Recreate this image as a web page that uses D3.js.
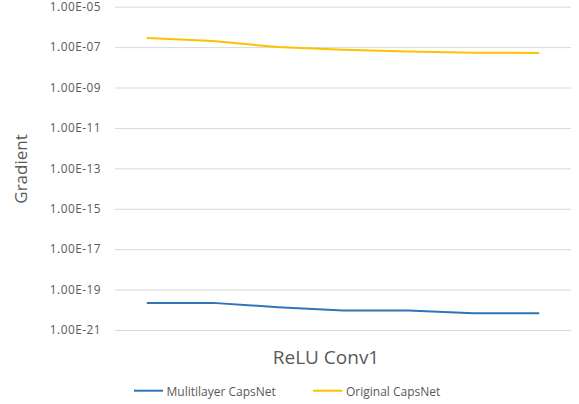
<!DOCTYPE html>
<html>
<head>
<meta charset="utf-8">
<script src="https://cdn.jsdelivr.net/npm/d3@7"></script>
<style>
  html, body { margin: 0; padding: 0; background: #fff; }
  svg { display: block; }
  text { font-family: "Open Sans", "Noto Sans", sans-serif; fill: #595959; }
</style>
</head>
<body>
<div id="chart"></div>
<script>
// ---- data ----
const categories = ["1", "2", "3", "4", "5", "6", "7"];
const seriesNames = ["Mulitilayer CapsNet", "Original CapsNet"];
const multilayerValues = [2.2e-20, 2.2e-20, 1.35e-20, 9.3e-21, 9.3e-21, 6.7e-21, 6.7e-21];
const originalValues = [2.8e-7, 2.0e-7, 1.0e-7, 7.4e-8, 6.1e-8, 5.3e-8, 5.1e-8];
const yTicks = [1e-5, 1e-7, 1e-9, 1e-11, 1e-13, 1e-15, 1e-17, 1e-19, 1e-21];
const yTickLabels = ["1.00E-05", "1.00E-07", "1.00E-09", "1.00E-11", "1.00E-13", "1.00E-15", "1.00E-17", "1.00E-19", "1.00E-21"];
const xTitle = "ReLU Conv1";
const yTitle = "Gradient";
const colors = ["#2E75B6", "#FFC000"];

// ---- layout ----
const W = 579, H = 404;
const plot = { left: 115, right: 571, top: 6.7, bottom: 330 };

const svg = d3.select("#chart").append("svg")
  .attr("width", W).attr("height", H);

const x = d3.scaleBand().domain(categories).range([plot.left, plot.right]).padding(0);
const y = d3.scaleLog().domain([1e-21, 1e-5]).range([plot.bottom, plot.top]);

// gridlines
const yAxis = d3.axisLeft(y)
  .tickValues(yTicks)
  .tickSize(-(plot.right - plot.left))
  .tickPadding(14)
  .tickFormat((d, i) => yTickLabels[i]);

const gAxis = svg.append("g")
  .attr("transform", `translate(${plot.left},0)`)
  .call(yAxis);
gAxis.select(".domain").remove();
gAxis.selectAll(".tick line").attr("stroke", "#d9d9d9").attr("stroke-width", 1);
gAxis.selectAll(".tick text")
  .attr("fill", "#595959")
  .style("font-family", '"Open Sans", sans-serif')
  .style("font-size", "11.8px")
  .style("letter-spacing", "0.5px")
  .attr("x", -14);

// lines
const line = d3.line()
  .x((d, i) => x(categories[i]) + x.bandwidth() / 2)
  .y(d => y(d));

[multilayerValues, originalValues].forEach((vals, k) => {
  svg.append("path")
    .datum(vals)
    .attr("fill", "none")
    .attr("stroke", colors[k])
    .attr("stroke-width", 2)
    .attr("stroke-linejoin", "round")
    .attr("stroke-linecap", "round")
    .attr("d", line);
});

// axis titles
svg.append("text")
  .attr("x", 326).attr("y", 364)
  .attr("text-anchor", "middle")
  .style("font-size", "19px")
  .text(xTitle);

svg.append("text")
  .attr("transform", "translate(27,169) rotate(-90)")
  .attr("text-anchor", "middle")
  .style("font-size", "17px")
  .text(yTitle);

// legend
const legendItems = [
  { name: seriesNames[0], color: colors[0], x1: 134, x2: 163, tx: 166.5 },
  { name: seriesNames[1], color: colors[1], x1: 313, x2: 342.5, tx: 346 }
];
const lg = svg.append("g");
legendItems.forEach(it => {
  lg.append("line")
    .attr("x1", it.x1).attr("x2", it.x2)
    .attr("y1", 390.7).attr("y2", 390.7)
    .attr("stroke", it.color).attr("stroke-width", 2);
  lg.append("text")
    .attr("x", it.tx).attr("y", 395.5)
    .style("font-size", "12px")
    .text(it.name);
});
</script>
</body>
</html>
